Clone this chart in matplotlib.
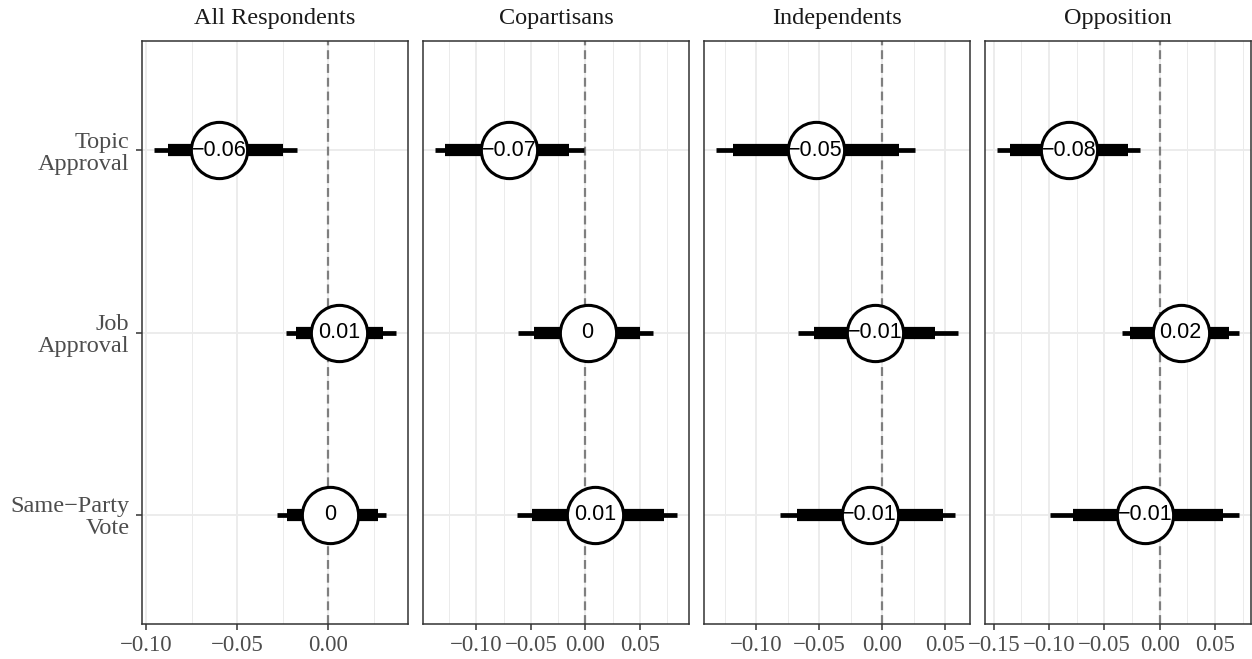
import matplotlib.pyplot as plt
from matplotlib.ticker import MultipleLocator, FuncFormatter
import numpy as np

panels = ["All Respondents", "Copartisans", "Independents", "Opposition"]
outcomes = ["Topic\nApproval", "Job\nApproval", "Same\u2212Party\nVote"]

# point estimates, rows = panels, cols = outcomes
est = [[-0.060, 0.006, 0.001],
       [-0.070, 0.002, 0.009],
       [-0.053, -0.006, -0.010],
       [-0.082, 0.019, -0.013]]

# outer (thin) intervals
lo_out = [[-0.0957, -0.0234, -0.0280],
          [-0.1380, -0.0615, -0.0630],
          [-0.1320, -0.0666, -0.0810],
          [-0.1470, -0.0340, -0.0994]]
hi_out = [[-0.0174, 0.0370, 0.0315],
          [-0.0016, 0.0620, 0.0840],
          [0.0260, 0.0600, 0.0574],
          [-0.0175, 0.0716, 0.0716]]

# inner (thick) intervals
lo_in = [[-0.0880, -0.0180, -0.0230],
         [-0.1290, -0.0470, -0.0486],
         [-0.1186, -0.0540, -0.0680],
         [-0.1355, -0.0265, -0.0780]]
hi_in = [[-0.0250, 0.0300, 0.0270],
         [-0.0150, 0.0505, 0.0720],
         [0.0133, 0.0420, 0.0480],
         [-0.0286, 0.0630, 0.0570]]

W, H = 1252, 659
fig = plt.figure(figsize=(W / 100, H / 100), dpi=100)

lefts = [142, 423, 704, 985]
pw = 266
top, bottom = 41, 624

serif = "Liberation Serif"
grid_c = "#EBEBEB"


def lab(v):
    r = round(v, 2)
    if r == 0:
        return "0"
    s = ("%.2f" % r).rstrip("0")
    return s.replace("-", "\u2212")


def tickfmt(v, pos):
    s = "%.2f" % v
    if abs(v) < 1e-9:
        s = "0.00"
    return s.replace("-", "\u2212")


ypos = [3, 2, 1]

for i, name in enumerate(panels):
    ax = fig.add_axes([lefts[i] / W, 1 - bottom / H, pw / W, (bottom - top) / H])
    lo = min(lo_out[i])
    hi = max(hi_out[i])
    pad = 0.05 * (hi - lo)
    ax.set_xlim(lo - pad, hi + pad)
    ax.set_ylim(0.4, 3.6)

    ax.xaxis.set_major_locator(MultipleLocator(0.05))
    ax.xaxis.set_minor_locator(MultipleLocator(0.025))
    ax.xaxis.set_major_formatter(FuncFormatter(tickfmt))
    ax.grid(which="major", axis="x", color=grid_c, lw=1.3, zorder=0)
    ax.grid(which="minor", axis="x", color=grid_c, lw=0.7, zorder=0)
    for y in ypos:
        ax.axhline(y, color=grid_c, lw=1.3, zorder=0)
    ax.set_axisbelow(True)

    ax.axvline(0, color="#7F7F7F", lw=1.6, ls=(0, (4, 2.2)), zorder=1)

    for j in range(3):
        y = ypos[j]
        ax.plot([lo_out[i][j], hi_out[i][j]], [y, y], color="black", lw=3.4,
                solid_capstyle="butt", zorder=2)
        ax.plot([lo_in[i][j], hi_in[i][j]], [y, y], color="black", lw=8.8,
                solid_capstyle="butt", zorder=3)
        ax.plot(est[i][j], y, "o", ms=40.5, mfc="white", mec="black", mew=2.2,
                zorder=4)
        ax.text(est[i][j], y, lab(est[i][j]), ha="center", va="center",
                fontsize=15.5, family="Liberation Sans", color="black", zorder=5)

    for s in ax.spines.values():
        s.set_color("#333333")
        s.set_linewidth(1.1)

    ax.tick_params(axis="x", which="major", length=4, width=1.1, color="#333333",
                   labelsize=16.5, labelcolor="#4D4D4D", pad=4)
    ax.tick_params(axis="x", which="minor", length=0)
    for t in ax.get_xticklabels():
        t.set_family(serif)

    ax.set_yticks(ypos)
    if i == 0:
        ax.set_yticklabels(outcomes, family=serif, fontsize=17.5, color="#4D4D4D",
                           linespacing=1.05)
        ax.tick_params(axis="y", length=4, width=1.1, color="#333333", pad=5)
    else:
        ax.set_yticklabels([])
        ax.tick_params(axis="y", length=0)

    ax.set_title(name, family=serif, fontsize=17.5, color="#1A1A1A", pad=12)

fig.savefig("out.png", dpi=100)
